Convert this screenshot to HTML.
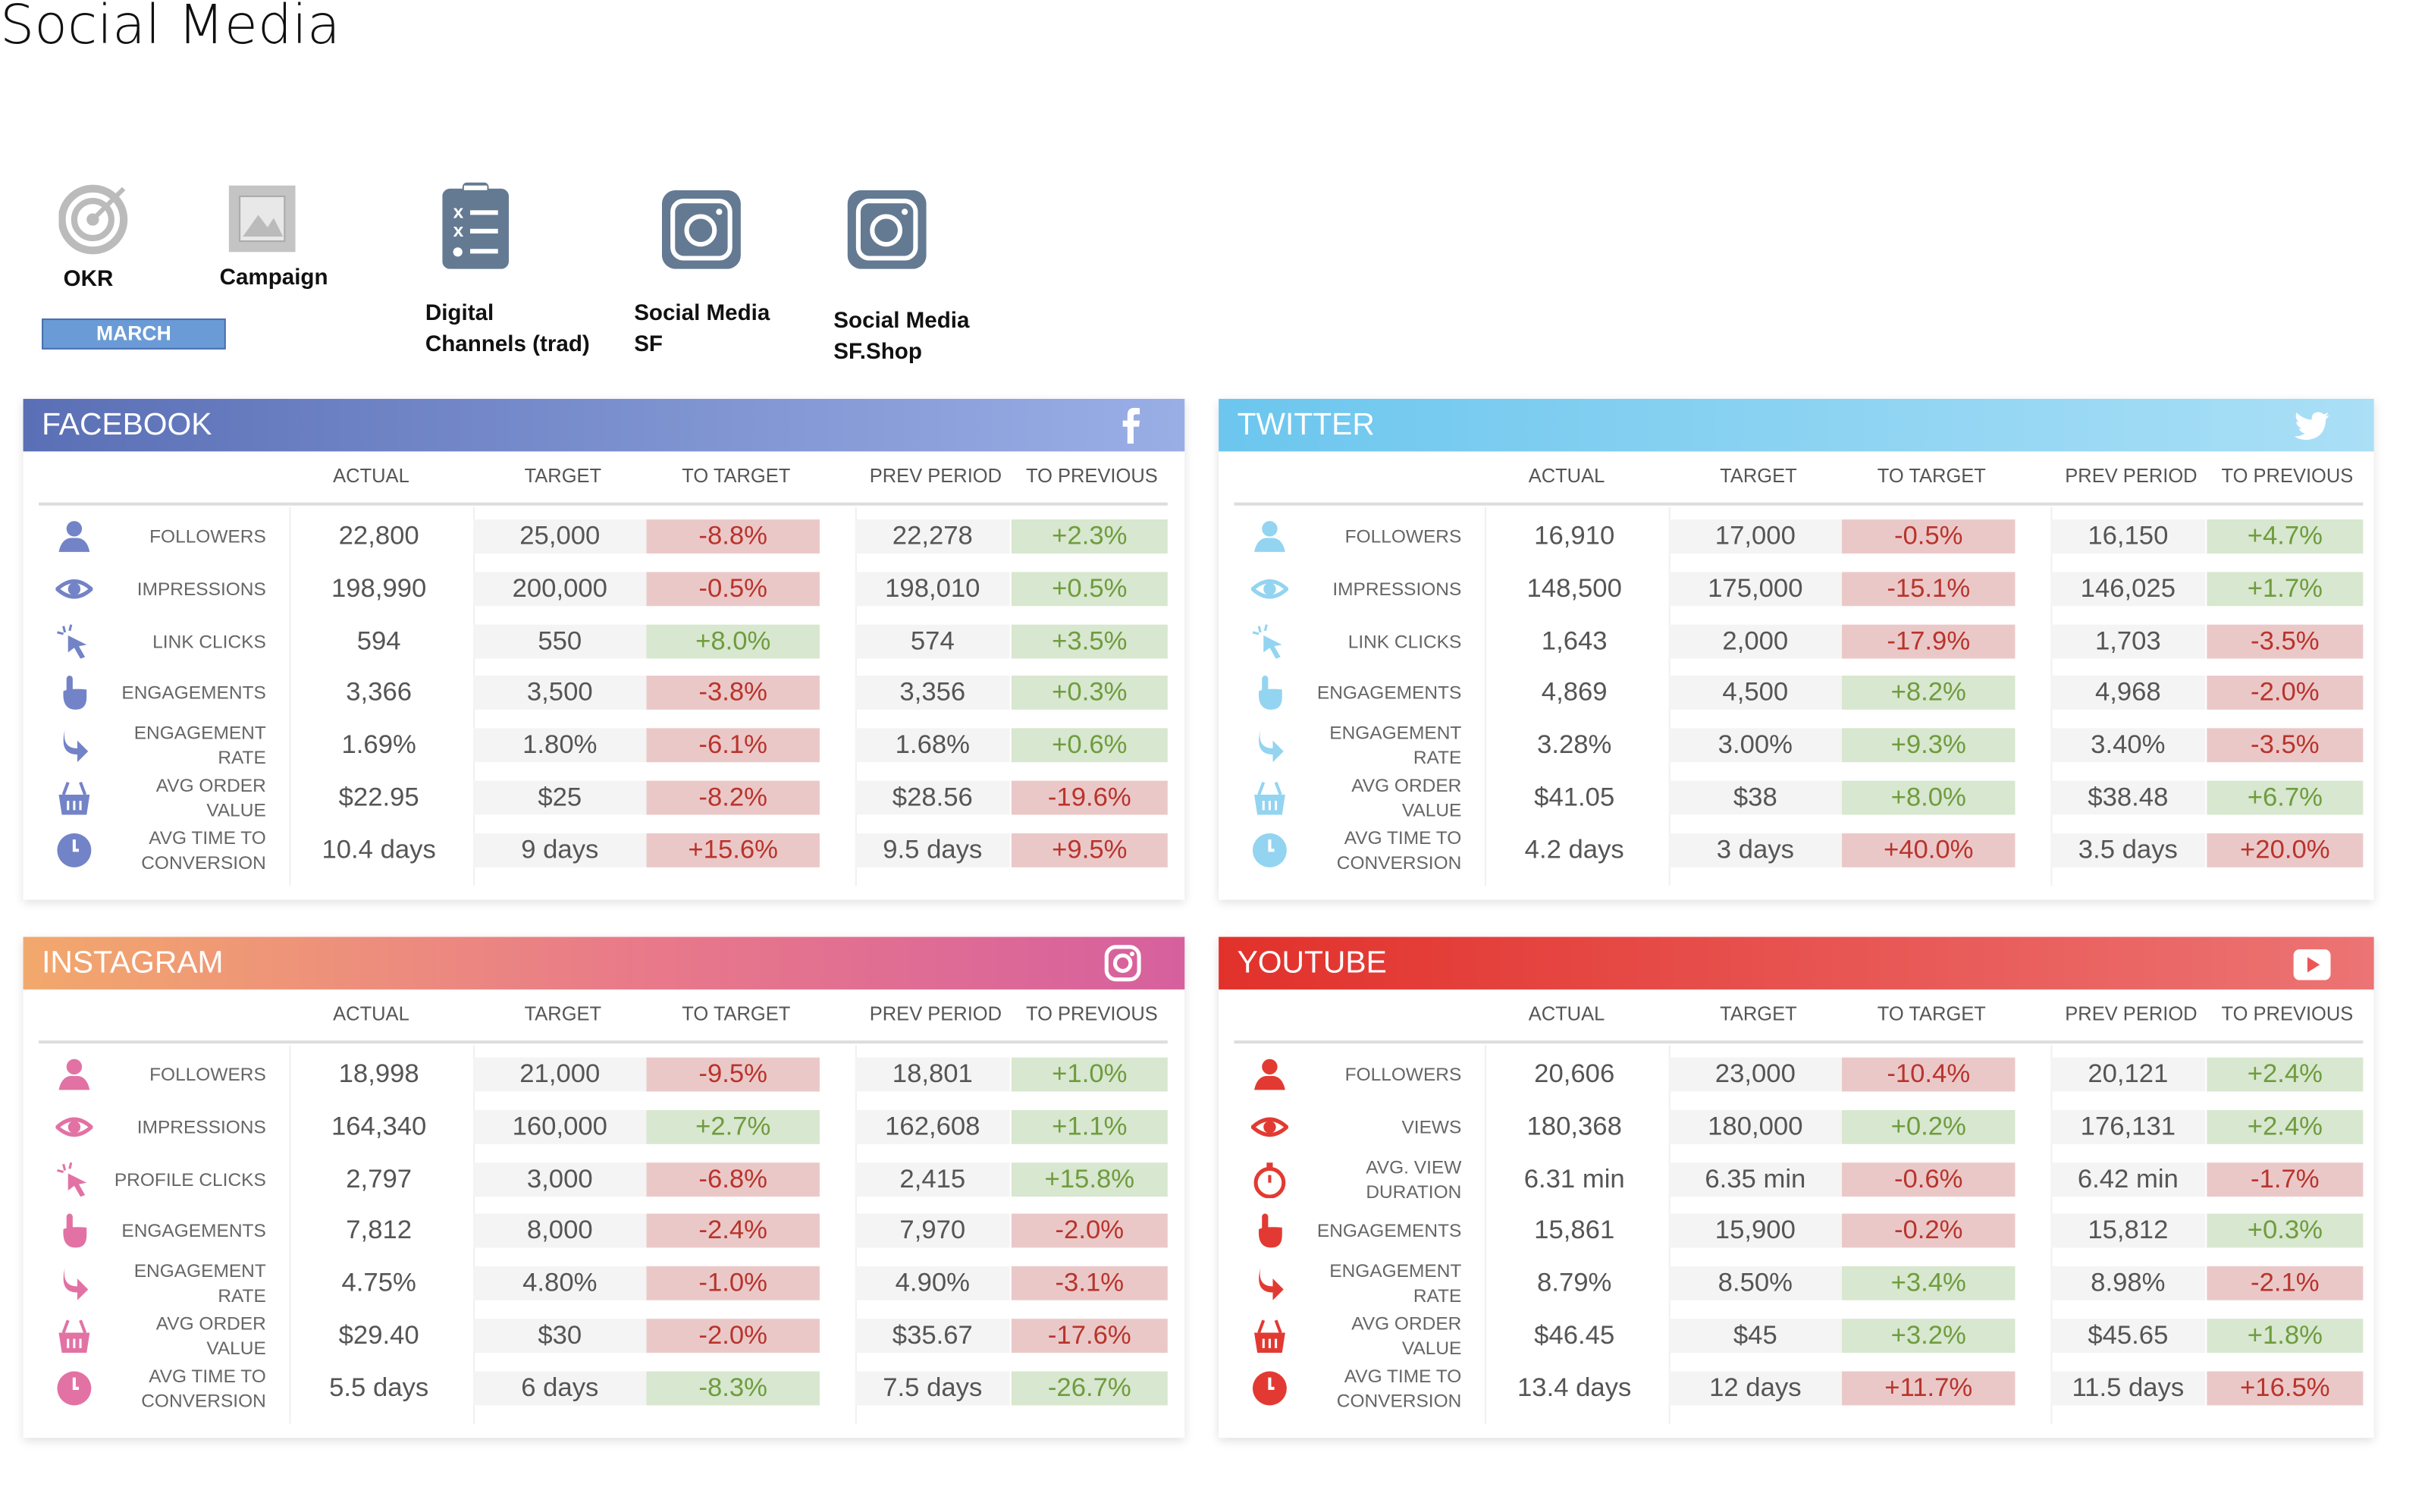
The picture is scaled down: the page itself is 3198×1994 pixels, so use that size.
<!DOCTYPE html>
<html><head><meta charset="utf-8">
<style>
html,body{margin:0;padding:0;background:#fff;overflow:hidden}
#root{position:absolute;left:0;top:0;width:1568px;height:978px;transform:scale(2.0395,2.0389);transform-origin:0 0;font-family:"Liberation Sans",sans-serif}
.abs{position:absolute}
.lbl{position:absolute;font-weight:bold;font-size:14.5px;color:#111;line-height:20px}
.panel{position:absolute;background:#fff;box-shadow:0 2px 6px rgba(0,0,0,0.12)}
.hdr{position:absolute;left:0;right:0;top:0;height:34px;color:#fff;font-size:20px;line-height:34px;padding-left:12px;box-sizing:border-box}
.ch{position:absolute;font-size:12.5px;color:#555;text-align:center;width:120px;margin-left:-60px}
.cell{position:absolute;height:22px;line-height:22px;text-align:center;font-size:17px;color:#555}
.rl{position:absolute;font-size:12px;color:#666;text-align:right;width:140px;line-height:16px}
</style></head><body>
<div id="root">
<div class="abs" style="left:0;top:-3px;font-size:35px;color:#111;font-family:'DejaVu Sans',sans-serif;font-weight:300">Social Media</div>

<svg class="abs" style="left:38px;top:117px" width="48" height="48" viewBox="0 0 48 48"><circle cx="22" cy="25" r="20" fill="none" stroke="#bbb" stroke-width="5"/><circle cx="22" cy="25" r="12" fill="none" stroke="#bbb" stroke-width="4"/><circle cx="22" cy="25" r="4" fill="#bbb"/><path d="M22 25 L42 5" stroke="#bbb" stroke-width="3"/></svg>
<div class="lbl" style="left:41px;top:171px">OKR</div>
<svg class="abs" style="left:147px;top:119px" width="45" height="45" viewBox="0 0 45 45"><rect x="1" y="1" width="43" height="43" fill="#c4c4c4"/><rect x="8" y="8" width="29" height="29" fill="#e8e8e8" stroke="#aaa"/><path d="M10 34 L20 20 L26 28 L30 22 L36 34Z" fill="#bbb"/></svg>
<div class="lbl" style="left:142px;top:170px">Campaign</div>
<div class="abs" style="left:27px;top:206px;width:119px;height:20px;background:#6b9bd6;border:1px solid #4a6fb0;box-sizing:border-box;color:#fff;font-size:13px;font-weight:bold;text-align:center;line-height:18px">MARCH</div>

<svg class="abs" style="left:286px;top:118px" width="43" height="56" viewBox="0 0 43 56"><rect x="0" y="4" width="43" height="52" rx="5" fill="#647a92"/><rect x="13" y="0" width="17" height="8" rx="3" fill="#647a92"/><rect x="14" y="2" width="15" height="3" fill="#fff"/><text x="7" y="23" fill="#fff" font-size="12" font-family="Liberation Sans" font-weight="bold">x</text><text x="7" y="35" fill="#fff" font-size="12" font-family="Liberation Sans" font-weight="bold">x</text><circle cx="10" cy="45" r="3" fill="#fff"/><rect x="18" y="18" width="18" height="3" fill="#fff"/><rect x="18" y="30" width="18" height="3" fill="#fff"/><rect x="18" y="43" width="18" height="3" fill="#fff"/></svg>
<div class="lbl" style="left:275px;top:193px">Digital<br>Channels (trad)</div>
<svg class="abs" style="left:428px;top:123px" width="51" height="51" viewBox="0 0 51 51"><rect x="0" y="0" width="51" height="51" rx="9" fill="#647a92"/><rect x="7" y="7" width="37" height="37" rx="7" fill="none" stroke="#fff" stroke-width="3"/><circle cx="25" cy="26" r="9" fill="none" stroke="#fff" stroke-width="3"/><circle cx="37" cy="14" r="2" fill="#fff"/></svg>
<div class="lbl" style="left:410px;top:193px">Social Media<br>SF</div>
<svg class="abs" style="left:548px;top:123px" width="51" height="51" viewBox="0 0 51 51"><rect x="0" y="0" width="51" height="51" rx="9" fill="#647a92"/><rect x="7" y="7" width="37" height="37" rx="7" fill="none" stroke="#fff" stroke-width="3"/><circle cx="25" cy="26" r="9" fill="none" stroke="#fff" stroke-width="3"/><circle cx="37" cy="14" r="2" fill="#fff"/></svg>
<div class="lbl" style="left:539px;top:198px">Social Media<br>SF.Shop</div>
</div>
<script>
const fbLabels=["FOLLOWERS","IMPRESSIONS","LINK CLICKS","ENGAGEMENTS","ENGAGEMENT|RATE","AVG ORDER|VALUE","AVG TIME TO|CONVERSION"];
const fbActual=["22,800","198,990","594","3,366","1.69%","$22.95","10.4 days"];
const fbTarget=["25,000","200,000","550","3,500","1.80%","$25","9 days"];
const fbToTarget=["-8.8%","-0.5%","+8.0%","-3.8%","-6.1%","-8.2%","+15.6%"];
const fbToTargetGood=[0,0,1,0,0,0,0];
const fbPrev=["22,278","198,010","574","3,356","1.68%","$28.56","9.5 days"];
const fbToPrev=["+2.3%","+0.5%","+3.5%","+0.3%","+0.6%","-19.6%","+9.5%"];
const fbToPrevGood=[1,1,1,1,1,0,0];

const twLabels=["FOLLOWERS","IMPRESSIONS","LINK CLICKS","ENGAGEMENTS","ENGAGEMENT|RATE","AVG ORDER|VALUE","AVG TIME TO|CONVERSION"];
const twActual=["16,910","148,500","1,643","4,869","3.28%","$41.05","4.2 days"];
const twTarget=["17,000","175,000","2,000","4,500","3.00%","$38","3 days"];
const twToTarget=["-0.5%","-15.1%","-17.9%","+8.2%","+9.3%","+8.0%","+40.0%"];
const twToTargetGood=[0,0,0,1,1,1,0];
const twPrev=["16,150","146,025","1,703","4,968","3.40%","$38.48","3.5 days"];
const twToPrev=["+4.7%","+1.7%","-3.5%","-2.0%","-3.5%","+6.7%","+20.0%"];
const twToPrevGood=[1,1,0,0,0,1,0];

const igLabels=["FOLLOWERS","IMPRESSIONS","PROFILE CLICKS","ENGAGEMENTS","ENGAGEMENT|RATE","AVG ORDER|VALUE","AVG TIME TO|CONVERSION"];
const igActual=["18,998","164,340","2,797","7,812","4.75%","$29.40","5.5 days"];
const igTarget=["21,000","160,000","3,000","8,000","4.80%","$30","6 days"];
const igToTarget=["-9.5%","+2.7%","-6.8%","-2.4%","-1.0%","-2.0%","-8.3%"];
const igToTargetGood=[0,1,0,0,0,0,1];
const igPrev=["18,801","162,608","2,415","7,970","4.90%","$35.67","7.5 days"];
const igToPrev=["+1.0%","+1.1%","+15.8%","-2.0%","-3.1%","-17.6%","-26.7%"];
const igToPrevGood=[1,1,1,0,0,0,1];

const ytLabels=["FOLLOWERS","VIEWS","AVG. VIEW|DURATION","ENGAGEMENTS","ENGAGEMENT|RATE","AVG ORDER|VALUE","AVG TIME TO|CONVERSION"];
const ytActual=["20,606","180,368","6.31 min","15,861","8.79%","$46.45","13.4 days"];
const ytTarget=["23,000","180,000","6.35 min","15,900","8.50%","$45","12 days"];
const ytToTarget=["-10.4%","+0.2%","-0.6%","-0.2%","+3.4%","+3.2%","+11.7%"];
const ytToTargetGood=[0,1,0,0,1,1,0];
const ytPrev=["20,121","176,131","6.42 min","15,812","8.98%","$45.65","11.5 days"];
const ytToPrev=["+2.4%","+2.4%","-1.7%","+0.3%","-2.1%","+1.8%","+16.5%"];
const ytToPrevGood=[1,1,0,1,0,1,0];

const colHeaders=["ACTUAL","TARGET","TO TARGET","PREV PERIOD","TO  PREVIOUS"];
const iconKinds=["person","eye","click","hand","arrow","basket","clock"];

function iconSvg(kind,c){
  let s='';
  if(kind==='person')s=`<circle cx="12" cy="7" r="5" fill="${c}"/><path d="M2 22 Q4 12 12 13 Q20 12 22 22Z" fill="${c}"/>`;
  else if(kind==='eye')s=`<path d="M1 12 Q12 2 23 12 Q12 22 1 12Z" fill="none" stroke="${c}" stroke-width="2.5"/><circle cx="12" cy="12" r="4" fill="${c}"/>`;
  else if(kind==='click')s=`<path d="M8 8 L20 14 L15 15 L19 22 L16 23 L12 16 L8 19Z" fill="${c}"/><path d="M5 2 L6 6 M1 6 L5 7 M10 1 L9 5" stroke="${c}" stroke-width="1.5"/>`;
  else if(kind==='hand')s=`<rect x="7" y="1" width="4" height="12" rx="2" fill="${c}"/><path d="M5 11 Q4 23 13 23 Q20 23 20 15 L20 10 Q10 9 5 11Z" fill="${c}"/>`;
  else if(kind==='arrow')s=`<path d="M6 2 Q4 14 14 14 L14 9 L21 16 L14 23 L14 18 Q2 18 6 2Z" fill="${c}"/>`;
  else if(kind==='basket')s=`<path d="M2 10 L22 10 L20 23 L4 23Z" fill="${c}"/><path d="M5 10 L8 2 M19 10 L16 2" stroke="${c}" stroke-width="2"/><path d="M8 14 V20 M12 14 V20 M16 14 V20" stroke="#fff" stroke-width="1.5"/>`;
  else if(kind==='timer')s=`<circle cx="12" cy="14" r="9" fill="none" stroke="${c}" stroke-width="2.5"/><rect x="10" y="1" width="4" height="3" fill="${c}"/><path d="M12 14 L12 9" stroke="${c}" stroke-width="2"/>`;
  else s=`<circle cx="12" cy="12" r="11" fill="${c}"/><path d="M12 5 V12 H15" stroke="#fff" stroke-width="2" fill="none"/>`;
  return `<svg width="24" height="24" viewBox="0 0 24 24">${s}</svg>`;
}

function brandIcon(kind){
  if(kind==='fb')return `<svg width="14" height="24" viewBox="0 0 14 24"><path d="M9 24 V13 H12.5 L13 9 H9 V6.5 Q9 5 10.5 5 H13 V1 Q11 0.8 9.5 0.8 Q5 0.8 5 5.5 V9 H2 V13 H5 V24Z" fill="#fff"/></svg>`;
  if(kind==='tw')return `<svg width="24" height="20" viewBox="0 0 24 20"><path d="M23 2.5 Q21.5 3.2 20.5 3.3 Q22 2.3 22.5 0.8 Q21 1.7 19.5 2 Q18 0.5 16 0.5 Q11.5 0.8 11.8 5.5 Q6 5 2 0.8 Q0.5 4.5 3.5 7 Q2.5 7 1.8 6.5 Q2 10 5.5 11 Q4.5 11.3 3.5 11.1 Q4.5 14 7.5 14.2 Q4.5 16.5 0.5 16.2 Q4 18.5 8 18.5 Q20.5 18 21 5 Q22.3 4 23 2.5Z" fill="#fff"/></svg>`;
  if(kind==='ig')return `<svg width="24" height="24" viewBox="0 0 24 24"><rect x="1.5" y="1.5" width="21" height="21" rx="6" fill="none" stroke="#fff" stroke-width="2.5"/><circle cx="12" cy="12" r="5" fill="none" stroke="#fff" stroke-width="2.5"/><circle cx="18" cy="6" r="1.5" fill="#fff"/></svg>`;
  return `<svg width="24" height="20" viewBox="0 0 24 20"><rect x="0" y="0" width="24" height="20" rx="4" fill="#fff"/><path d="M9 5 L17 10 L9 15Z" fill="#e55"/></svg>`;
}

const root=document.getElementById('root');
function panel(opts){
  const p=document.createElement('div');
  p.className='panel';
  
  
  p.style.left=opts.x+'px';p.style.top=opts.y+'px';p.style.width=opts.w+'px';p.style.height='324px';
  root.appendChild(p);
  const h=document.createElement('div');
  h.className='hdr';
  
  
  h.style.background=opts.grad;
  h.textContent=opts.title;
  p.appendChild(h);
  const bi=document.createElement('div');
  bi.className='abs';
  
  
  bi.style.right='28px';bi.style.top='5px';bi.innerHTML=brandIcon(opts.brand);
  h.appendChild(bi);
  const colX=[225,349,461,590,691];
  colHeaders.forEach((t,i)=>{
    const c=document.createElement('div');
    c.className='ch';
    
    
    c.style.left=colX[i]+'px';c.style.top='43px';c.textContent=t;
    p.appendChild(c);
  });
  const rule=document.createElement('div');
  rule.className='abs';
  
  
  rule.style.cssText='left:10px;top:67px;width:730px;height:2px;background:#ddd';
  p.appendChild(rule);
  [172,291,538].forEach(x=>{
    const v=document.createElement('div');
    v.className='abs';
    
    
    v.style.cssText=`left:${x}px;top:70px;width:1px;height:245px;background:#f0f0f0`;
    p.appendChild(v);
  });
  const rowY=i=>89+i*33.8;
  opts.labels.forEach((lab,i)=>{
    const cy=rowY(i);
    const ic=document.createElement('div');
    ic.className='abs';
    
    
    ic.style.left='21px';ic.style.top=(cy-12)+'px';
    let kind=iconKinds[i];
    if(opts.name==='youtube'&&i===2)kind='timer';
    ic.innerHTML=iconSvg(kind,opts.icon);
    p.appendChild(ic);
    const parts=lab.split('|');
    const l=document.createElement('div');
    l.className='rl';
    
    
    l.style.left='17px';l.style.top=(cy-parts.length*8)+'px';
    l.innerHTML=parts.join('<br>');
    p.appendChild(l);
    const cells=[
      [opts.actual[i],175,110,null,'actual-value'],
      [opts.target[i],291,112,'#f4f4f4','target-value'],
      [opts.toT[i],403,112,opts.toTG[i]?'g':'r','to-target-value'],
      [opts.prev[i],538,100,'#f4f4f4','prev-period-value'],
      [opts.toP[i],639,101,opts.toPG[i]?'g':'r','to-previous-value']
    ];
    cells.forEach(c=>{
      const d=document.createElement('div');
      d.className='cell';
      
      
      d.style.left=c[1]+'px';d.style.width=c[2]+'px';d.style.top=(cy-11)+'px';
      if(c[3]==='g'){d.style.background='#d8e7cf';d.style.color='#6f9c3e';}
      else if(c[3]==='r'){d.style.background='#ebc8c8';d.style.color='#b8342c';}
      else if(c[3]){d.style.background=c[3];}
      d.textContent=c[0];
      p.appendChild(d);
    });
  });
}
panel({name:'facebook',title:'FACEBOOK',brand:'fb',x:15,y:258,w:751,grad:'linear-gradient(90deg,#5a6fb5,#9aaee6)',icon:'#7383c7',labels:fbLabels,actual:fbActual,target:fbTarget,toT:fbToTarget,toTG:fbToTargetGood,prev:fbPrev,toP:fbToPrev,toPG:fbToPrevGood});
panel({name:'twitter',title:'TWITTER',brand:'tw',x:788,y:258,w:747,grad:'linear-gradient(90deg,#6cc6ee,#aadff6)',icon:'#93d4f1',labels:twLabels,actual:twActual,target:twTarget,toT:twToTarget,toTG:twToTargetGood,prev:twPrev,toP:twToPrev,toPG:twToPrevGood});
panel({name:'instagram',title:'INSTAGRAM',brand:'ig',x:15,y:606,w:751,grad:'linear-gradient(90deg,#f2a86c,#e8788a 55%,#d6609e)',icon:'#e272a4',labels:igLabels,actual:igActual,target:igTarget,toT:igToTarget,toTG:igToTargetGood,prev:igPrev,toP:igToPrev,toPG:igToPrevGood});
panel({name:'youtube',title:'YOUTUBE',brand:'yt',x:788,y:606,w:747,grad:'linear-gradient(90deg,#e2312b,#ec7474)',icon:'#e23a32',labels:ytLabels,actual:ytActual,target:ytTarget,toT:ytToTarget,toTG:ytToTargetGood,prev:ytPrev,toP:ytToPrev,toPG:ytToPrevGood});
</script>
</body></html>
